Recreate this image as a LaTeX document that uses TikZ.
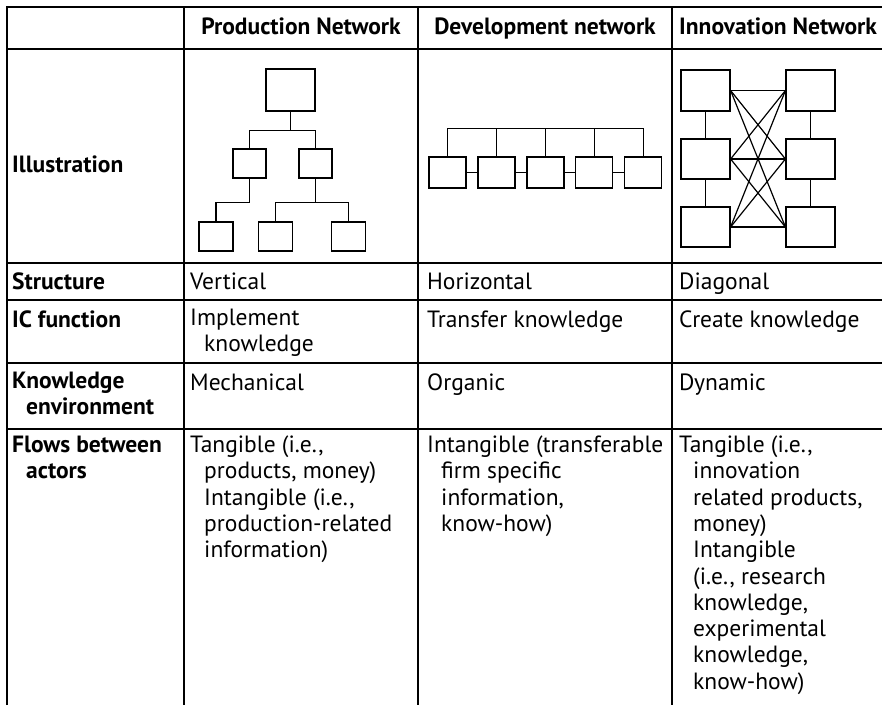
\documentclass[tikz,border=0pt]{standalone}
\usepackage{fontspec}
\setmainfont{PT Sans}
\usepackage{tikz}
\usetikzlibrary{positioning}

% hanging indent for continuation lines
\newcommand{\ind}{\hspace*{14pt}}

\tikzset{
  cell/.style={anchor=north west, inner sep=0pt, align=left,
    font=\fontsize{23.5}{26.3}\selectfont, execute at begin node=\strut},
  rowlabel/.style={cell, font=\fontsize{23.5}{26.3}\selectfont\bfseries},
  colhead/.style={rowlabel, anchor=north},
  rule/.style={line width=1.2pt},
  frame/.style={line width=2.6pt},
  netbox/.style={draw, line width=1.2pt, inner sep=0pt},
  link/.style={line width=1.2pt}
}

\begin{document}
\begin{tikzpicture}[x=1pt, y=-1pt]

  \useasboundingbox (0,0) rectangle (882,705);

  % grid of the table
  \draw[frame] (7,705) -- (7,7) -- (882,7);
  \draw[rule] (7,49) -- (882,49);
  \draw[rule] (7,263) -- (882,263);
  \draw[rule] (7,300) -- (882,300);
  \draw[rule] (7,363) -- (882,363);
  \draw[rule] (7,429) -- (882,429);
  \draw[rule] (184,7) -- (184,705);
  \draw[rule] (418,7) -- (418,705);
  \draw[rule] (672,7) -- (672,705);

  % column heads
  \node[colhead] (hprod) at (301,15.6) {Production Network};
  \node[colhead] (hdev) at (545,15.6) {Development network};
  \node[rowlabel] (hinno) at (679,15.6) {Innovation Network};

  % row labels
  \node[rowlabel] (lillus) at (12,153.6) {Illustration};
  \node[rowlabel] (lstruct) at (12,270.6) {Structure};
  \node[rowlabel] (lfunc) at (12,308.6) {IC function};
  \node[rowlabel] (lenv) at (12,371.6) {Knowledge\\\ind environment};
  \node[rowlabel] (lflow) at (12,435.6) {Flows between\\\ind actors};

  % production network
  \node[cell] (pstruct) at (190,270.6) {Vertical};
  \node[cell] (pfunc) at (190,308.6) {Implement\\\ind knowledge};
  \node[cell] (penv) at (190,371.6) {Mechanical};
  \node[cell] (pflow) at (190,435.6) {Tangible (i.e.,\\\ind products, money)\\\ind Intangible (i.e.,\\\ind production-related\\\ind information)};

  % development network
  \node[cell] (dstruct) at (427,270.6) {Horizontal};
  \node[cell] (dfunc) at (427,308.6) {Transfer knowledge};
  \node[cell] (denv) at (427,371.6) {Organic};
  \node[cell] (dflow) at (427,435.6) {Intangible (transferable\\\ind firm specific\\\ind information,\\\ind know-how)};

  % innovation network
  \node[cell] (istruct) at (679,270.6) {Diagonal};
  \node[cell] (ifunc) at (679,308.6) {Create knowledge};
  \node[cell] (ienv) at (679,371.6) {Dynamic};
  \node[cell] (iflow) at (679,435.6) {Tangible (i.e.,\\\ind innovation\\\ind related products,\\\ind money)\\\ind Intangible\\\ind (i.e., research\\\ind knowledge,\\\ind experimental\\\ind knowledge,\\\ind know-how)};

  % vertical tree
  \node[netbox, minimum width=49pt, minimum height=42pt] (ptop) at (290.5,90) {};
  \node[netbox, minimum width=33pt, minimum height=29pt] (pmidl) at (249.5,163.5) {};
  \node[netbox, minimum width=33pt, minimum height=29pt] (pmidr) at (315.5,163.5) {};
  \node[netbox, minimum width=34pt, minimum height=29pt] (pbotl) at (216,236.5) {};
  \node[netbox, minimum width=34pt, minimum height=29pt] (pbotm) at (275.5,236.5) {};
  \node[netbox, minimum width=34pt, minimum height=29pt] (pbotr) at (348.5,236.5) {};
  \draw[link] (ptop.south) -- ++(0,19) -| (pmidl.north);
  \draw[link] (ptop.south) ++(0,19) -| (pmidr.north);
  \draw[link] (pmidl.south) -- ++(0,24) -| (pbotl.north);
  \draw[link] (pmidr.south) -- ++(0,24) -| (pbotm.north);
  \draw[link] (pmidr.south) ++(0,24) -| (pbotr.north);

  % horizontal chain
  \node[netbox, minimum width=37pt, minimum height=31pt] (dev1) at (447.5,172.5) {};
  \node[netbox, minimum width=37pt, minimum height=31pt, right=10.75pt of dev1] (dev2) {};
  \node[netbox, minimum width=37pt, minimum height=31pt, right=10.75pt of dev2] (dev3) {};
  \node[netbox, minimum width=37pt, minimum height=31pt, right=10.75pt of dev3] (dev4) {};
  \node[netbox, minimum width=37pt, minimum height=31pt, right=10.75pt of dev4] (dev5) {};
  \draw[link] (dev1.north) -- ++(0,-28) -| (dev5.north);
  \draw[link] (dev2.north) -- ++(0,-28);
  \draw[link] (dev3.north) -- ++(0,-28);
  \draw[link] (dev4.north) -- ++(0,-28);
  \draw[link] (dev1) -- (dev2);
  \draw[link] (dev2) -- (dev3);
  \draw[link] (dev3) -- (dev4);
  \draw[link] (dev4) -- (dev5);

  % diagonal mesh
  \node[netbox, minimum width=49pt, minimum height=41pt] (inl1) at (705.5,90.5) {};
  \node[netbox, minimum width=49pt, minimum height=40pt] (inl2) at (705.5,159) {};
  \node[netbox, minimum width=49pt, minimum height=40pt] (inl3) at (705.5,227) {};
  \node[netbox, minimum width=49pt, minimum height=41pt] (inr1) at (810.5,90.5) {};
  \node[netbox, minimum width=49pt, minimum height=40pt] (inr2) at (810.5,159) {};
  \node[netbox, minimum width=49pt, minimum height=40pt] (inr3) at (810.5,227) {};
  \draw[link] (inl1) -- (inl2);
  \draw[link] (inl2) -- (inl3);
  \draw[link] (inr1) -- (inr2);
  \draw[link] (inr2) -- (inr3);
  \draw[link] (inl1.east) -- (inr1.west);
  \draw[link] (inl1.east) -- (inr2.west);
  \draw[link] (inl1.east) -- (inr3.west);
  \draw[link] (inl2.east) -- (inr1.west);
  \draw[link] (inl2.east) -- (inr2.west);
  \draw[link] (inl2.east) -- (inr3.west);
  \draw[link] (inl3.east) -- (inr1.west);
  \draw[link] (inl3.east) -- (inr2.west);
  \draw[link] (inl3.east) -- (inr3.west);

\end{tikzpicture}
\end{document}
